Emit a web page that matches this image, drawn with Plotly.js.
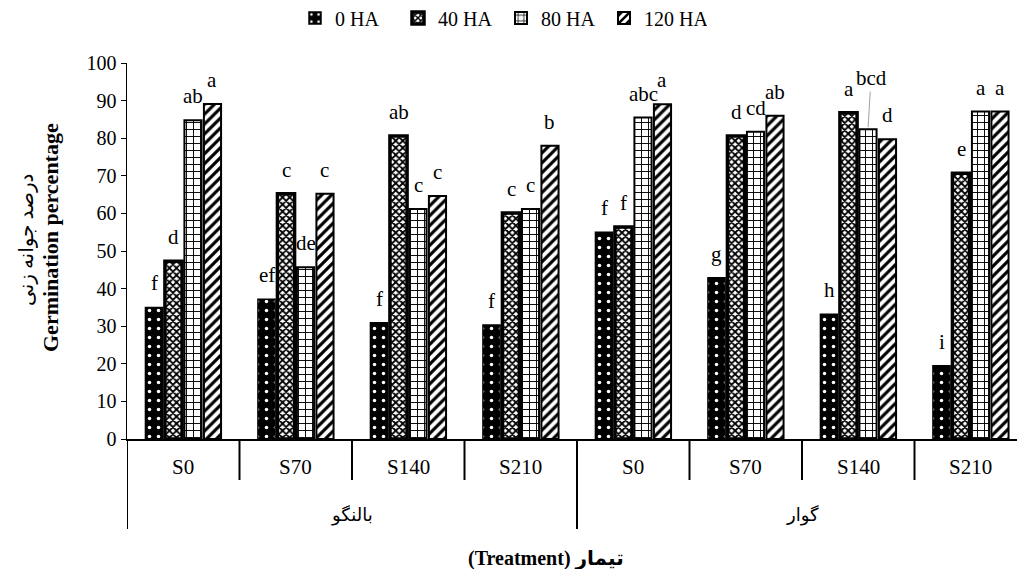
<!DOCTYPE html>
<html>
<head>
<meta charset="utf-8">
<script src="https://cdn.plot.ly/plotly-3.0.1.min.js"></script>
<style>html,body{margin:0;padding:0;background:#fff;}</style>
</head>
<body>
<div id="chart" style="width:1017px;height:569px;"></div>
<script>
// ---- data ----
const groups = ["بالنگو","بالنگو","بالنگو","بالنگو","گوار","گوار","گوار","گوار"];
const salinity = ["S0","S70","S140","S210","S0","S70","S140","S210"];
const seriesNames = ["0 HA","40 HA","80 HA","120 HA"];
const ha0   = [35.0, 37.2, 30.9, 30.3, 55.0, 42.9, 33.2, 19.5];
const ha40  = [47.3, 65.2, 80.6, 60.1, 56.4, 80.6, 86.8, 70.7];
const ha80  = [84.8, 45.7, 61.2, 61.2, 85.5, 81.7, 82.4, 87.1];
const ha120 = [89.1, 65.2, 64.6, 78.0, 89.0, 86.0, 79.7, 87.1];
const let0   = ["f","ef","f","f","f","g","h","i"];
const let40  = ["d","c","ab","c","f","d","a","e"];
const let80  = ["ab","de","c","c","abc","cd","bcd","a"];
const let120 = ["a","c","c","b","a","ab","d","a"];
const yTitleFa = "درصد جوانه زنی";
const yTitleEn = "Germination percentage";
const xTitleFa = "تیمار";
const xTitleEn = "(Treatment)";

// ---- styling ----
const FONT = "Liberation Serif, Times New Roman, DejaVu Sans, serif";
const idx = salinity.map((_, i) => i);
const bargap = 0.307;
const values = [ha0, ha40, ha80, ha120];
const letters = [let0, let40, let80, let120];
const patterns = [
  {shape: ".", bgcolor: "#000", fgcolor: "#fff", size: 9, solidity: 0.12},
  {shape: "x", bgcolor: "#fff", fgcolor: "#000", size: 5, solidity: 0.6},
  {shape: "+", bgcolor: "#fff", fgcolor: "#000", size: 7, solidity: 0.25},
  {shape: "/", bgcolor: "#fff", fgcolor: "#000", size: 7, solidity: 0.45}
];
const lineW = [1.5, 3.5, 2, 2];

// letter for the one bar labelled by a leader line
const leaderSeries = 2, leaderCat = 6;

const traces = values.map((v, k) => ({
  type: "bar",
  name: seriesNames[k],
  x: idx,
  y: v,
  marker: {color: patterns[k].bgcolor, pattern: patterns[k], line: {color: "#000", width: lineW[k]}},
  hoverinfo: "skip"
}));

// ---- axis decorations ----
const plotL = 127, plotR = 1017, plotT = 63, plotB = 439;
const catW = 112.5;
const pH = plotB - plotT;
const pW = plotR - plotL;
const py = px => -(px - plotB) / pH;   // pixel row -> paper y
const pxX = px => (px - plotL) / pW;   // pixel col -> paper x

const shapes = [];
for (let i = 0; i <= salinity.length; i++) {
  const isGroupEdge = (i === 0 || i === salinity.length || groups[i] !== groups[i - 1]);
  shapes.push({
    type: "line", xref: "x", yref: "paper",
    x0: i - 0.5, x1: i - 0.5,
    y0: 0, y1: py(isGroupEdge ? 529 : 480),
    line: {color: "#000", width: 2}
  });
}

const annotations = [];
// significance letters above each bar
const gw = 1 - bargap, slot = gw / values.length;
const barX = (k, i) => i - gw / 2 + slot * (k + 0.5);
values.forEach((v, k) => v.forEach((val, i) => {
  const t = letters[k][i];
  if (k === leaderSeries && i === leaderCat) {
    annotations.push({
      text: t, x: barX(k, i), xref: "x", y: val, yref: "y",
      showarrow: true, arrowhead: 0, arrowwidth: 1, arrowcolor: "#a0a0a0",
      ax: 3, ay: -51, standoff: 2,
      font: {family: FONT, size: 21, color: "#000"}
    });
  } else {
    annotations.push({
      text: t, x: barX(k, i), xref: "x", y: val, yref: "y",
      showarrow: false, yanchor: "bottom", yshift: 10,
      font: {family: FONT, size: 21, color: "#000"}
    });
  }
}));

salinity.forEach((s, i) => annotations.push({
  text: s, x: i, xref: "x", y: py(467), yref: "paper", showarrow: false,
  font: {family: FONT, size: 21, color: "#000"}, yanchor: "middle"
}));
const uniqueGroups = [...new Set(groups)];
uniqueGroups.forEach(g => {
  const ids = idx.filter(i => groups[i] === g);
  const c = ids.reduce((a, b) => a + b, 0) / ids.length;
  annotations.push({
    text: g, x: c, xref: "x", y: py(515), yref: "paper", showarrow: false,
    font: {family: FONT, size: 18, color: "#000"}, yanchor: "middle"
  });
});
annotations.push({
  text: "<b>" + xTitleEn + " " + xTitleFa + "</b>", x: pxX(546), xref: "paper", y: py(558), yref: "paper",
  showarrow: false, font: {family: FONT, size: 20, color: "#000"}, yanchor: "middle"
});
annotations.push({
  text: yTitleFa, x: pxX(26), xref: "paper", y: (plotB - 240) / pH, yref: "paper",
  showarrow: false, textangle: -90, font: {family: FONT, size: 20, color: "#000"},
  xanchor: "center", yanchor: "middle"
});
annotations.push({
  text: "<b>" + yTitleEn + "</b>", x: pxX(50), xref: "paper", y: (plotB - 238) / pH, yref: "paper",
  showarrow: false, textangle: -90, font: {family: FONT, size: 22, color: "#000"},
  xanchor: "center", yanchor: "middle"
});

const layout = {
  width: 1017, height: 569,
  margin: {l: plotL, r: 1017 - plotR, t: plotT, b: 569 - plotB},
  paper_bgcolor: "#fff", plot_bgcolor: "#fff",
  font: {family: FONT, color: "#000", size: 16},
  barmode: "group", bargap: bargap, bargroupgap: 0.12,
  showlegend: true,
  legend: {
    orientation: "h", xref: "container", yref: "container",
    x: 295 / 1017, xanchor: "left", y: 1 - 18 / 569, yanchor: "middle",
    font: {family: FONT, size: 20, color: "#000"},
    itemwidth: 30, entrywidth: 58, traceorder: "normal"
  },
  xaxis: {
    range: [-0.5, -0.5 + pW / catW], showticklabels: false, ticks: "",
    showline: true, linecolor: "#000", linewidth: 1.5,
    showgrid: false, zeroline: false, fixedrange: true
  },
  yaxis: {
    range: [0, 100], dtick: 10, ticks: "outside", ticklen: 5, tickcolor: "#000",
    showline: true, linecolor: "#000", linewidth: 1.5,
    showgrid: false, zeroline: false,
    tickfont: {family: FONT, size: 20, color: "#000"}
  },
  shapes: shapes,
  annotations: annotations
};

Plotly.newPlot("chart", traces, layout, {displayModeBar: false, staticPlot: true});
</script>
</body>
</html>
